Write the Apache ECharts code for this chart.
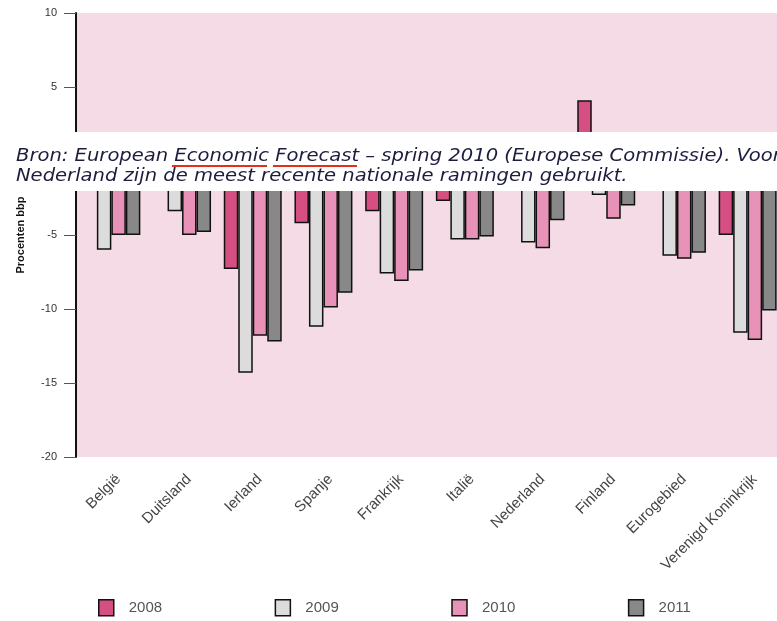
<!DOCTYPE html>
<html>
<head>
<meta charset="utf-8">
<script src="https://cdn.jsdelivr.net/npm/echarts@6/dist/echarts.min.js"></script>
<style>
html,body{margin:0;padding:0;background:#fff;}
#c{width:777px;height:621px;}
</style>
</head>
<body>
<div id="c"></div>
<script>
var categories = ['België','Duitsland','Ierland','Spanje','Frankrijk','Italië','Nederland','Finland','Eurogebied','Verenigd Koninkrijk'];
var years = ['2008','2009','2010','2011'];
var v2008 = [-1.2, 0.0, -7.3, -4.2, -3.4, -2.7, 0.7, 4.1, -2.0, -5.0];
var v2009 = [-6.0, -3.4, -14.3, -11.2, -7.6, -5.3, -5.5, -2.3, -6.4, -11.6];
var v2010 = [-5.0, -5.0, -11.8, -9.9, -8.1, -5.3, -5.9, -3.9, -6.6, -12.1];
var v2011 = [-5.0, -4.8, -12.2, -8.9, -7.4, -5.1, -4.0, -3.0, -6.2, -10.1];
var yTicks = {min: -20, max: 10, interval: 5};
var axisName = 'Procenten bbp';
var noteLine1 = 'Bron: European Economic Forecast \u2013 spring 2010 (Europese Commissie). Voor';
var noteLine2 = 'Nederland zijn de meest recente nationale ramingen gebruikt.';

var colors = ['#d64f82', '#dcdcdc', '#e892b8', '#888888'];
var seriesData = [v2008, v2009, v2010, v2011];

var chart = echarts.init(document.getElementById('c'), null, {renderer: 'canvas'});
var series = years.map(function (y, i) {
  return {
    name: y,
    type: 'bar',
    data: seriesData[i],
    barGap: '0%',
    barCategoryGap: '18%',
    itemStyle: {color: colors[i], borderColor: '#111', borderWidth: 1.5},
    z: 2
  };
});

var gridBase = {top: 13, width: 707, height: 444, outerBoundsMode: 'none', containLabel: false};

chart.setOption({
  animation: false,
  backgroundColor: '#fff',
  color: colors,
  grid: [
    Object.assign({left: 76, show: true, backgroundColor: '#f4dbe6', borderWidth: 0}, gridBase),
    Object.assign({left: 83, show: false}, gridBase)
  ],
  legend: {
    data: years,
    left: 93, top: 594,
    itemWidth: 15, itemHeight: 16,
    itemGap: 112.5,
    icon: 'rect',
    itemStyle: {borderColor: '#111', borderWidth: 1.5},
    textStyle: {fontFamily: 'Liberation Sans', fontSize: 15, color: '#555', padding: [0, 0, 0, 10]}
  },
  xAxis: [
    {
      type: 'category', gridIndex: 0,
      data: categories,
      axisLine: {show: false},
      axisTick: {show: false},
      axisLabel: {show: false}
    },
    {
      type: 'category', gridIndex: 1,
      data: categories,
      axisLine: {show: false},
      axisTick: {show: false},
      axisLabel: {
        rotate: 45, interval: 0, margin: 20,
        fontFamily: 'Liberation Sans', fontSize: 15, color: '#444'
      }
    }
  ],
  yAxis: [
    {
      type: 'value', gridIndex: 0,
      min: yTicks.min, max: yTicks.max, interval: yTicks.interval,
      name: axisName,
      nameLocation: 'middle',
      nameGap: 50,
      nameTextStyle: {fontFamily: 'Liberation Sans', fontSize: 11, fontWeight: 'bold', color: '#111'},
      axisLine: {show: true, lineStyle: {color: '#111', width: 2}},
      axisTick: {show: true, length: 12, lineStyle: {color: '#555', width: 1}},
      axisLabel: {margin: 19, fontFamily: 'Liberation Sans', fontSize: 11, color: '#333'},
      splitLine: {show: false}
    },
    {
      type: 'value', gridIndex: 1,
      min: yTicks.min, max: yTicks.max, interval: yTicks.interval,
      show: false
    }
  ],
  series: series,
  graphic: [
    {type: 'rect', left: 0, top: 132, z: 100, shape: {width: 777, height: 59}, style: {fill: '#fff'}},
    {type: 'text', x: 16, y: 157, scaleX: 1.15, z: 101,
      style: {text: noteLine1, font: 'italic 17px "DejaVu Sans"', fill: '#1c1c3e', verticalAlign: 'middle'}},
    {type: 'text', x: 16, y: 177, scaleX: 1.15, z: 101,
      style: {text: noteLine2, font: 'italic 17px "DejaVu Sans"', fill: '#1c1c3e', verticalAlign: 'middle'}},
    {type: 'line', z: 102, shape: {x1: 172, y1: 166, x2: 267, y2: 166}, style: {stroke: '#e0301e', lineWidth: 2}},
    {type: 'line', z: 102, shape: {x1: 273, y1: 166, x2: 357, y2: 166}, style: {stroke: '#e0301e', lineWidth: 2}}
  ]
});
</script>
</body>
</html>
